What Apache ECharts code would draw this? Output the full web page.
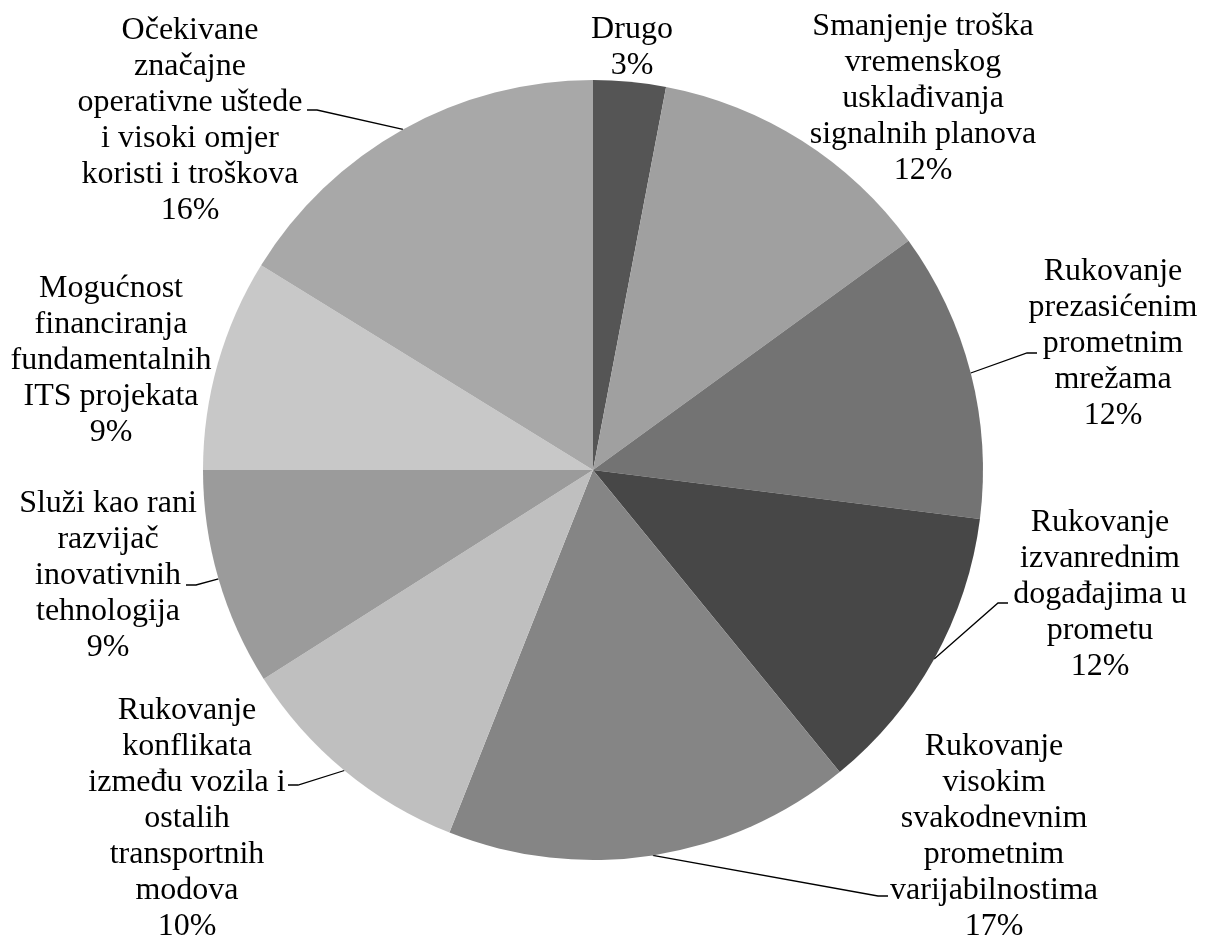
<!DOCTYPE html>
<html>
<head>
<meta charset="utf-8">
<script src="https://cdn.jsdelivr.net/npm/echarts@6/dist/echarts.min.js"></script>
<style>
  html, body { margin: 0; padding: 0; background: #ffffff; }
  #chart { width: 1210px; height: 940px; }
</style>
</head>
<body>
<div id="chart"></div>
<script>
// ---- data ----
var categories = [
  'Drugo',
  'Smanjenje troška\nvremenskog\nusklađivanja\nsignalnih planova',
  'Rukovanje\nprezasićenim\nprometnim\nmrežama',
  'Rukovanje\nizvanrednim\ndogađajima u\nprometu',
  'Rukovanje\nvisokim\nsvakodnevnim\nprometnim\nvarijabilnostima',
  'Rukovanje\nkonflikata\nizmeđu vozila i\nostalih\ntransportnih\nmodova',
  'Služi kao rani\nrazvijač\ninovativnih\ntehnologija',
  'Mogućnost\nfinanciranja\nfundamentalnih\nITS projekata',
  'Očekivane\nznačajne\noperativne uštede\ni visoki omjer\nkoristi i troškova'
];
var values = [3, 12, 12, 12.1, 16.9, 10, 9, 8.8, 16.2];
var hasLeader = [false, false, true, true, true, true, true, false, true];

// ---- styles / layout ----
var sliceColors = ['#555555', '#a0a0a0', '#737373', '#474747', '#858585',
                   '#bfbfbf', '#9b9b9b', '#c8c8c8', '#a8a8a8'];
// label anchor (block centre) and leader end offset relative to it
var labelPlacement = [
  { x: 632,  y: 48 },
  { x: 923,  y: 99 },
  { x: 1113, y: 344, end: [-76, 9] },
  { x: 1100, y: 595, end: [-92, 8] },
  { x: 994,  y: 837, end: [-106, 59] },
  { x: 187,  y: 819, end: [101, -34] },
  { x: 108,  y: 576, end: [78, 9] },
  { x: 111,  y: 361 },
  { x: 190,  y: 121, end: [117, -11] }
];

var chart = echarts.init(document.getElementById('chart'), null, { renderer: 'canvas' });

var seriesData = categories.map(function (name, i) {
  return {
    name: name,
    value: values[i],
    itemStyle: { color: sliceColors[i] },
    labelLine: { show: hasLeader[i] }
  };
});

chart.setOption({
  backgroundColor: '#ffffff',
  animation: false,
  series: [{
    type: 'pie',
    center: [593, 470],
    radius: 390,
    startAngle: 90,
    clockwise: true,
    avoidLabelOverlap: false,
    itemStyle: { borderWidth: 0 },
    label: {
      show: true,
      position: 'outside',
      color: '#000000',
      fontFamily: '"Liberation Serif", "Times New Roman", serif',
      fontSize: 32,
      lineHeight: 36,
      align: 'center',
      formatter: function (p) {
        return p.name + '\n' + Math.round(p.percent) + '%';
      }
    },
    labelLine: {
      show: true,
      length: 10,
      length2: 10,
      smooth: false,
      lineStyle: { color: '#000000', width: 1.3 }
    },
    labelLayout: function (p) {
      var cfg = labelPlacement[p.dataIndex];
      var out = { x: cfg.x, y: cfg.y, align: 'center', verticalAlign: 'middle' };
      if (cfg.end && p.labelLinePoints) {
        var s = p.labelLinePoints[0];
        var ex = cfg.x + cfg.end[0];
        var ey = cfg.y + cfg.end[1];
        var elbowX = ex + (cfg.end[0] > 0 ? 10 : -10);
        out.labelLinePoints = [[s[0], s[1]], [elbowX, ey], [ex, ey]];
      }
      return out;
    },
    emphasis: { disabled: true },
    data: seriesData
  }]
});
</script>
</body>
</html>
